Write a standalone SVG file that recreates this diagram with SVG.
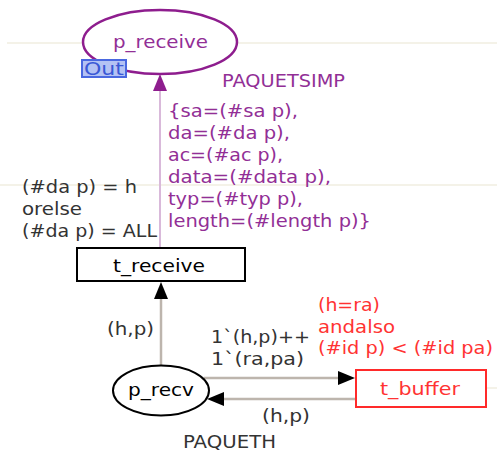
<svg xmlns="http://www.w3.org/2000/svg" width="497" height="452" viewBox="0 0 497 452">
<style>
text{font-family:"DejaVu Sans",Verdana,sans-serif;font-size:17px}
.pu{fill:#922f96}
.dk{fill:#333333}
.rd{fill:#ff3333}
.bg{stroke:#f4f2e8;stroke-width:2;fill:none}
.garc{stroke:#bdb5ad;stroke-width:2.5;fill:none}
.parc{stroke:#d9b9da;stroke-width:2;fill:none}
</style>
<g id="background">
<line class="bg" x1="7" y1="43" x2="497" y2="43"/>
<line class="bg" x1="0" y1="185" x2="497" y2="185"/>
<line class="bg" x1="486" y1="388" x2="497" y2="388"/>
</g>
<g id="connectors">
<line class="parc" x1="160" y1="248" x2="160" y2="90"/>
<polygon points="160,74 153,91 167,91" fill="#8e1d8e"/>
<line class="garc" x1="161" y1="365" x2="161" y2="298"/>
<polygon points="161,282 154,299 168,299" fill="#000"/>
<line class="garc" x1="204" y1="378" x2="340" y2="378"/>
<polygon points="355,378 338,371 338,385" fill="#000"/>
<line class="garc" x1="222" y1="399" x2="356" y2="399"/>
<polygon points="207,399 224,392 224,406" fill="#000"/>
<text class="pu" x="222" y="87" textLength="123" lengthAdjust="spacingAndGlyphs">PAQUETSIMP</text>
<text class="pu" x="168" y="117" textLength="130" lengthAdjust="spacingAndGlyphs">{sa=(#sa p),</text>
<text class="pu" x="168" y="139" textLength="122" lengthAdjust="spacingAndGlyphs">da=(#da p),</text>
<text class="pu" x="168" y="161" textLength="115" lengthAdjust="spacingAndGlyphs">ac=(#ac p),</text>
<text class="pu" x="168" y="183" textLength="163" lengthAdjust="spacingAndGlyphs">data=(#data p),</text>
<text class="pu" x="168" y="205" textLength="135" lengthAdjust="spacingAndGlyphs">typ=(#typ p),</text>
<text class="pu" x="168" y="227" textLength="203" lengthAdjust="spacingAndGlyphs">length=(#length p)}</text>
<text class="dk" x="107" y="335" textLength="47" lengthAdjust="spacingAndGlyphs">(h,p)</text>
<text class="dk" x="211" y="343" textLength="99" lengthAdjust="spacingAndGlyphs">1`(h,p)++</text>
<text class="dk" x="211" y="365" textLength="93" lengthAdjust="spacingAndGlyphs">1`(ra,pa)</text>
<text class="dk" x="262" y="422" textLength="48" lengthAdjust="spacingAndGlyphs">(h,p)</text>
</g>
<g id="p_receive">
<ellipse cx="160" cy="42" rx="77" ry="32" fill="#fff" stroke="#8e1d8e" stroke-width="2.5"/>
<text class="pu" x="113" y="48" textLength="95" lengthAdjust="spacingAndGlyphs">p_receive</text>
<rect x="82" y="60" width="44" height="17" fill="#b4c2f4" stroke="#4a68e0" stroke-width="2"/>
<text x="84" y="75" font-size="16" fill="#3a58d6" textLength="40" lengthAdjust="spacingAndGlyphs">Out</text>
</g>
<g id="t_receive">
<text class="dk" x="22" y="193" textLength="115" lengthAdjust="spacingAndGlyphs">(#da p) = h</text>
<text class="dk" x="22" y="215" textLength="60" lengthAdjust="spacingAndGlyphs">orelse</text>
<text class="dk" x="22" y="237" textLength="135" lengthAdjust="spacingAndGlyphs">(#da p) = ALL</text>
<rect x="77" y="248" width="168" height="33" fill="#fff" stroke="#000" stroke-width="2"/>
<text fill="#000" x="113" y="272" textLength="92" lengthAdjust="spacingAndGlyphs">t_receive</text>
</g>
<g id="p_recv">
<ellipse cx="161" cy="390.5" rx="48" ry="25" fill="#fff" stroke="#000" stroke-width="2"/>
<text fill="#000" x="128" y="396" textLength="66" lengthAdjust="spacingAndGlyphs">p_recv</text>
<text class="dk" x="183" y="448" textLength="93" lengthAdjust="spacingAndGlyphs">PAQUETH</text>
</g>
<g id="t_buffer">
<text class="rd" x="318" y="311" textLength="62" lengthAdjust="spacingAndGlyphs">(h=ra)</text>
<text class="rd" x="318" y="333" textLength="77" lengthAdjust="spacingAndGlyphs">andalso</text>
<text class="rd" x="318" y="354" textLength="175" lengthAdjust="spacingAndGlyphs">(#id p) &lt; (#id pa)</text>
<rect x="356" y="370" width="130" height="37" fill="#fff" stroke="#ff2a2a" stroke-width="2"/>
<text class="rd" x="380" y="395" textLength="80" lengthAdjust="spacingAndGlyphs">t_buffer</text>
</g>
</svg>
